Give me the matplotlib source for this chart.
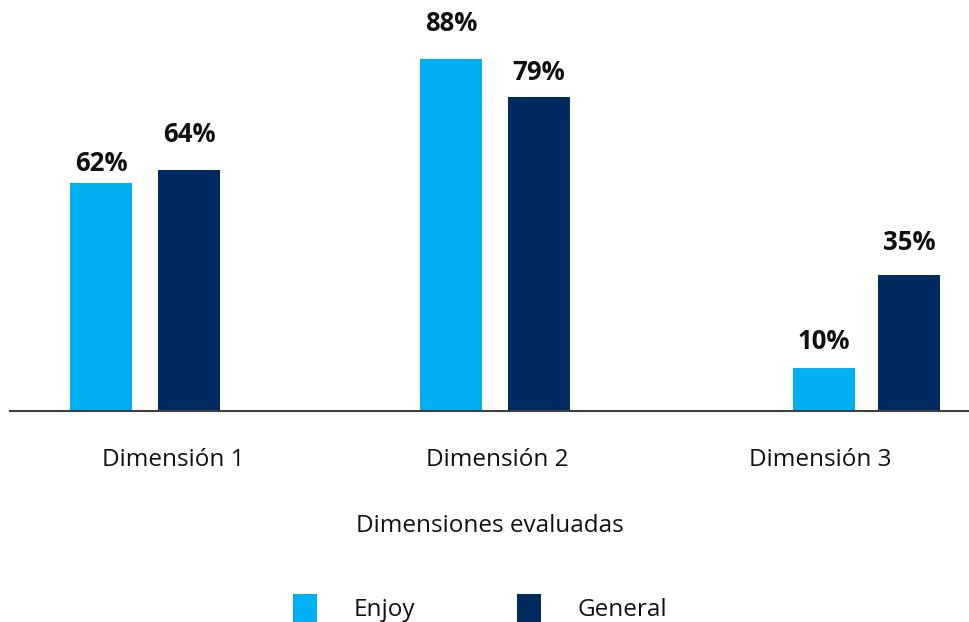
import matplotlib
matplotlib.use("Agg")
import matplotlib.pyplot as plt

categories = ["Dimensión 1", "Dimensión 2", "Dimensión 3"]
series_names = ["Enjoy", "General"]
enjoy_labels = ["62%", "88%", "10%"]
general_labels = ["64%", "79%", "35%"]
# bar heights (percent scale)
enjoy_heights = [57.0, 88.0, 10.8]
general_heights = [60.3, 78.5, 34.0]

colors = ["#00B0F0", "#002B60"]

# layout (x positions in axis units, label gaps in points)
enjoy_x = [101, 451, 824]
general_x = [189, 539, 909]
tick_x = [173, 497, 820]
bar_w = 62
enjoy_gap = [4, 16, 9]
general_gap = [16, 8, 14]

plt.rcParams['font.family'] = ['Open Sans', 'DejaVu Sans']

fig = plt.figure(figsize=(9.7, 6.22), dpi=100)
ax = fig.add_axes([10/970, 211/622, 960/970, 400/622])
ax.set_xlim(10, 970)
ax.set_ylim(0, 100)

b1 = ax.bar(enjoy_x, enjoy_heights, width=bar_w, color=colors[0], label=series_names[0])
b2 = ax.bar(general_x, general_heights, width=bar_w, color=colors[1], label=series_names[1])

for xs, hs, ts, gs in [(enjoy_x, enjoy_heights, enjoy_labels, enjoy_gap),
                       (general_x, general_heights, general_labels, general_gap)]:
    for x, h, t, g in zip(xs, hs, ts, gs):
        ax.annotate(t, (x, h), xytext=(0, g), textcoords="offset points", ha="center", va="bottom",
                    fontsize=18.5, fontweight="bold", color="#111111")

for s in ["top", "right", "left"]:
    ax.spines[s].set_visible(False)
ax.spines["bottom"].set_color("#404040")
ax.spines["bottom"].set_linewidth(1.5)
ax.set_yticks([])
ax.set_xticks(tick_x)
ax.set_xticklabels(categories, fontsize=17.5, color="#111111")
ax.tick_params(axis="x", length=0, pad=27)
ax.set_xlabel("Dimensiones evaluadas", fontsize=17.5, color="#111111", labelpad=30)

leg = fig.legend(handles=[b1, b2], labels=series_names, loc="lower center",
                 bbox_to_anchor=(0.495, -0.035), ncol=2, frameon=False, fontsize=17.5,
                 handlelength=1.0, handleheight=1.4, handletextpad=1.5, columnspacing=4.2)
for t in leg.get_texts():
    t.set_color("#111111")

fig.savefig("out.png", dpi=100)
